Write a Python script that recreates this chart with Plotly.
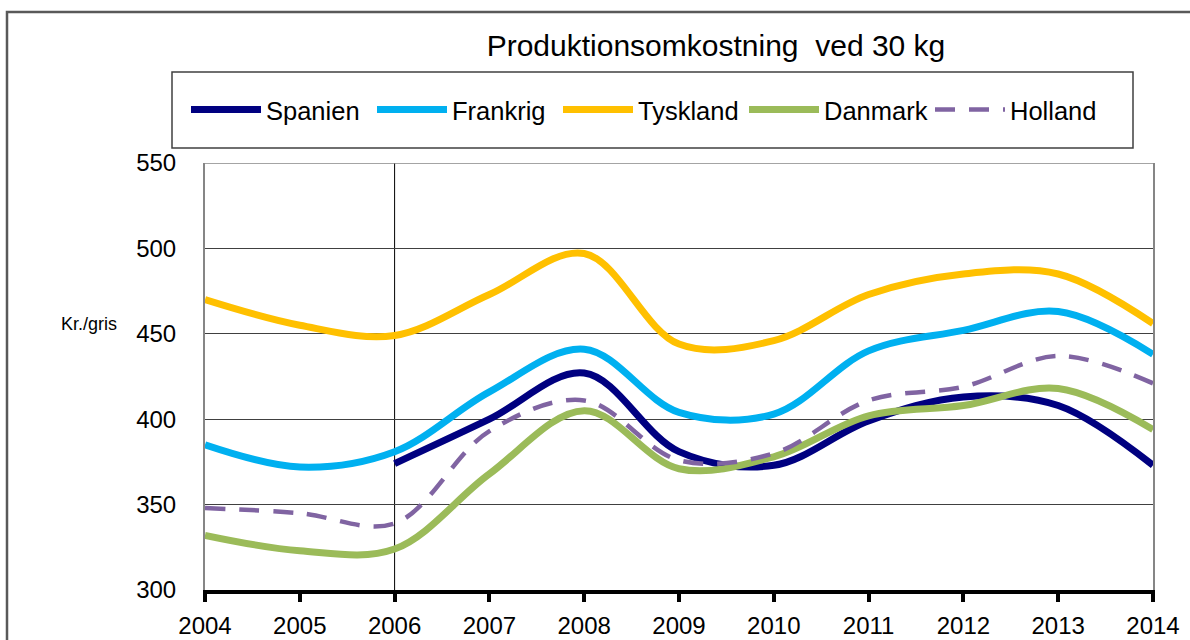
import plotly.graph_objects as go

years = [2004, 2005, 2006, 2007, 2008, 2009, 2010, 2011, 2012, 2013, 2014]
spanien = [None, None, 374, 400, 427, 381, 373, 399, 413, 408, 373]
frankrig = [385, 372, 381, 416, 441, 404, 403, 440, 452, 463, 438]
tyskland = [470, 455, 449, 473, 497, 444, 446, 473, 485, 485, 456]
danmark = [332, 323, 324, 368, 405, 371, 378, 402, 408, 418, 394]
holland = [348, 345, 339, 393, 411, 376, 380, 411, 419, 437, 421]

series = [
    ("Spanien", spanien, "#000080", None, 7),
    ("Frankrig", frankrig, "#00B0F0", None, 7),
    ("Tyskland", tyskland, "#FFC000", None, 7),
    ("Danmark", danmark, "#9BBB59", None, 7),
    ("Holland", holland, "#8064A2", "20px,14px", 4.5),
]

fig = go.Figure()
for name, vals, color, dash, w in series:
    fig.add_trace(go.Scatter(
        x=years, y=vals, name=name, mode="lines",
        line=dict(color=color, width=w, shape="spline", smoothing=1.0, dash=dash),
        connectgaps=False,
    ))

L, R, T, B = 205, 37, 163, 50
W, H = 1190, 640
pw, ph = W - L - R, H - T - B

def px_x(px):
    return (px - L) / pw

def px_y(py):
    return (H - B - py) / ph

font = "Liberation Sans, Arial, sans-serif"

fig.update_layout(
    width=W, height=H,
    margin=dict(l=L, r=R, t=T, b=B, autoexpand=False),
    paper_bgcolor="white", plot_bgcolor="white",
    font=dict(family=font, color="black", size=24),
    title=dict(text="Produktionsomkostning  ved 30 kg", x=716 / W, xanchor="center",
               y=1 - 45 / H, yanchor="middle", font=dict(size=30, family=font, color="black")),
    showlegend=True,
    legend=dict(orientation="h", x=px_x(651), xanchor="center", y=px_y(110), yanchor="middle",
                font=dict(size=25.5, family=font), itemwidth=70, bgcolor="rgba(0,0,0,0)",
                entrywidth=101, entrywidthmode="pixels", traceorder="normal"),
    xaxis=dict(range=[2004, 2014], tickvals=years, ticktext=[str(y) for y in years],
               showgrid=False, zeroline=False, showline=True, linecolor="black", linewidth=4,
               ticks="outside", ticklen=8, tickwidth=4, tickcolor="black", automargin=False,
               ticklabelstandoff=3, tickfont=dict(size=24)),
    yaxis=dict(range=[300, 550], dtick=50, tick0=300, showgrid=True, gridcolor="#404040",
               gridwidth=1, zeroline=False, showline=True, linecolor="#868686", linewidth=2,
               mirror=True, ticks="", ticklabelstandoff=22, automargin=False,
               tickfont=dict(size=24)),
    shapes=[
        dict(type="rect", xref="paper", yref="paper", x0=px_x(172), x1=px_x(1133),
             y0=px_y(148), y1=px_y(72), line=dict(color="#404040", width=1.5)),
        dict(type="rect", xref="paper", yref="paper", x0=px_x(7), x1=px_x(1260),
             y0=px_y(700), y1=px_y(12), line=dict(color="#595959", width=2.5)),
        dict(type="line", xref="x", yref="y", x0=2006, x1=2006, y0=300, y1=551,
             line=dict(color="black", width=1), layer="below"),
        dict(type="line", xref="x", yref="y", x0=2004, x1=2014, y0=550, y1=550,
             line=dict(color="#868686", width=1.5), layer="below"),
    ],
    annotations=[
        dict(text="Kr./gris", xref="paper", yref="paper", x=px_x(89), y=px_y(324),
             xanchor="center", yanchor="middle", showarrow=False,
             font=dict(size=18, family=font, color="black")),
    ],
)

fig.write_html("out.html", config={"displayModeBar": False},
               post_script="document.body.style.margin='0';document.body.style.overflow='hidden';")
